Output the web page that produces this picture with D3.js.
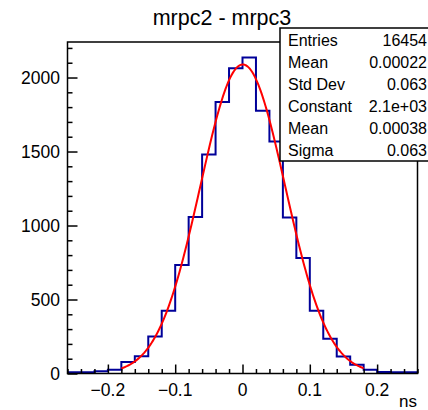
<!DOCTYPE html>
<html><head><meta charset="utf-8">
<script src="https://cdn.jsdelivr.net/npm/d3@7"></script>
<style>
html,body{margin:0;padding:0;background:#fff;}
svg{display:block;font-family:"Liberation Sans",Arial,Helvetica,sans-serif;}
</style></head>
<body>
<svg id="c" width="428" height="410"></svg>
<script>
// ---- data ----
const binEdges = [-0.26,-0.24,-0.22,-0.20,-0.18,-0.16,-0.14,-0.12,-0.10,-0.08,-0.06,-0.04,-0.02,0.00,0.02,0.04,0.06,0.08,0.10,0.12,0.14,0.16,0.18,0.20,0.22,0.24,0.26];
const binCounts = [8,8,15,25,77,117,250,424,734,1057,1480,1834,2063,2135,1775,1568,1054,780,424,234,115,59,25,10,8,8];
const fitConstant = 2088;
const fitMean = 0.00038;
const fitSigma = 0.063;
const fitRange = [-0.18, 0.18];
const xTickValues = [-0.2,-0.1,0,0.1,0.2];
const xTickLabels = ["\u22120.2","\u22120.1","0","0.1","0.2"];
const yTickValues = [0,500,1000,1500,2000];
const yTickLabels = ["0","500","1000","1500","2000"];
const statNames = ["Entries","Mean","Std Dev","Constant","Mean","Sigma"];
const statValues = ["16454","0.00022","0.063","2.1e+03","0.00038","0.063"];
const titleText = "mrpc2 - mrpc3";
const xTitle = "ns";

// ---- layout ----
const svg = d3.select("#c");
const L = 67.5, R = 417.5, T = 42, B = 373.5;
const x = d3.scaleLinear().domain([-0.26, 0.26]).range([L, R]);
const y = d3.scaleLinear().domain([0, 2240]).range([B, T]);

// histogram
const pts = [];
binCounts.forEach((c, i) => {
  pts.push([binEdges[i], c]);
  pts.push([binEdges[i+1], c]);
});
const histLine = d3.line().x(d => x(d[0])).y(d => y(d[1]));
svg.append("path").attr("d", histLine(pts))
  .attr("fill", "none").attr("stroke", "#000099").attr("stroke-width", 2);

// fit curve (evaluated from fit parameters)
const fitPts = d3.range(0, 201).map(i => {
  const xv = fitRange[0] + (fitRange[1] - fitRange[0]) * i / 200;
  return [xv, fitConstant * Math.exp(-0.5 * Math.pow((xv - fitMean) / fitSigma, 2))];
});
svg.append("path").attr("d", d3.line().x(d => x(d[0])).y(d => y(d[1]))(fitPts))
  .attr("fill", "none").attr("stroke", "#ff0000").attr("stroke-width", 2);

// frame
svg.append("rect").attr("x", L).attr("y", T).attr("width", R - L).attr("height", B - T)
  .attr("fill", "none").attr("stroke", "#000").attr("stroke-width", 1.5);

// x axis ticks
const xAxis = d3.axisBottom(x).tickValues(xTickValues).tickSize(-9).tickFormat("");
const gx = svg.append("g").attr("transform", `translate(0,${B})`).call(xAxis);
gx.select(".domain").remove();
gx.selectAll("line").attr("stroke", "#000").attr("stroke-width", 1.5);
const xMinor = d3.range(-13, 14).map(k => k * 0.02).filter(v => Math.abs(v * 10 - Math.round(v * 10)) > 1e-6);
const gxm = svg.append("g").attr("transform", `translate(0,${B})`)
  .call(d3.axisBottom(x).tickValues(xMinor).tickSize(-4.5).tickFormat(""));
gxm.select(".domain").remove();
gxm.selectAll("line").attr("stroke", "#000").attr("stroke-width", 1.5);
svg.append("g").selectAll("text").data(xTickValues).join("text")
  .attr("x", d => x(d)).attr("y", 396).attr("text-anchor", "middle")
  .attr("font-size", 17.5).text((d, i) => xTickLabels[i]);
svg.append("text").attr("x", 417).attr("y", 407).attr("text-anchor", "end")
  .attr("font-size", 17).text(xTitle);

// y axis ticks
const gy = svg.append("g").attr("transform", `translate(${L},0)`)
  .call(d3.axisLeft(y).tickValues(yTickValues).tickSize(-10).tickFormat(""));
gy.select(".domain").remove();
gy.selectAll("line").attr("stroke", "#000").attr("stroke-width", 1.5);
const gym = svg.append("g").attr("transform", `translate(${L},0)`)
  .call(d3.axisLeft(y).tickValues(d3.range(100, 2300, 100).filter(v => v % 500 !== 0)).tickSize(-5).tickFormat(""));
gym.select(".domain").remove();
gym.selectAll("line").attr("stroke", "#000").attr("stroke-width", 1.5);
svg.append("g").selectAll("text").data(yTickValues).join("text")
  .attr("x", 60).attr("y", d => y(d) + 6).attr("text-anchor", "end")
  .attr("font-size", 17.5).text((d, i) => yTickLabels[i]);

// title
svg.append("text").attr("x", 222).attr("y", 25).attr("text-anchor", "middle")
  .attr("font-size", 21.5).text(titleText);

// stats box
svg.append("rect").attr("x", 280).attr("y", 28).attr("width", 160).attr("height", 133)
  .attr("fill", "#fff").attr("stroke", "#000").attr("stroke-width", 1.5);
const rowY = d3.scaleLinear().domain([0, 5]).range([40, 150]);
svg.append("g").selectAll("text").data(statNames).join("text")
  .attr("x", 288).attr("y", (d, i) => rowY(i) + 6).attr("font-size", 16).text(d => d);
svg.append("g").selectAll("text").data(statValues).join("text")
  .attr("x", 427).attr("y", (d, i) => rowY(i) + 6).attr("text-anchor", "end").attr("font-size", 16).text(d => d);
</script>
</body></html>
